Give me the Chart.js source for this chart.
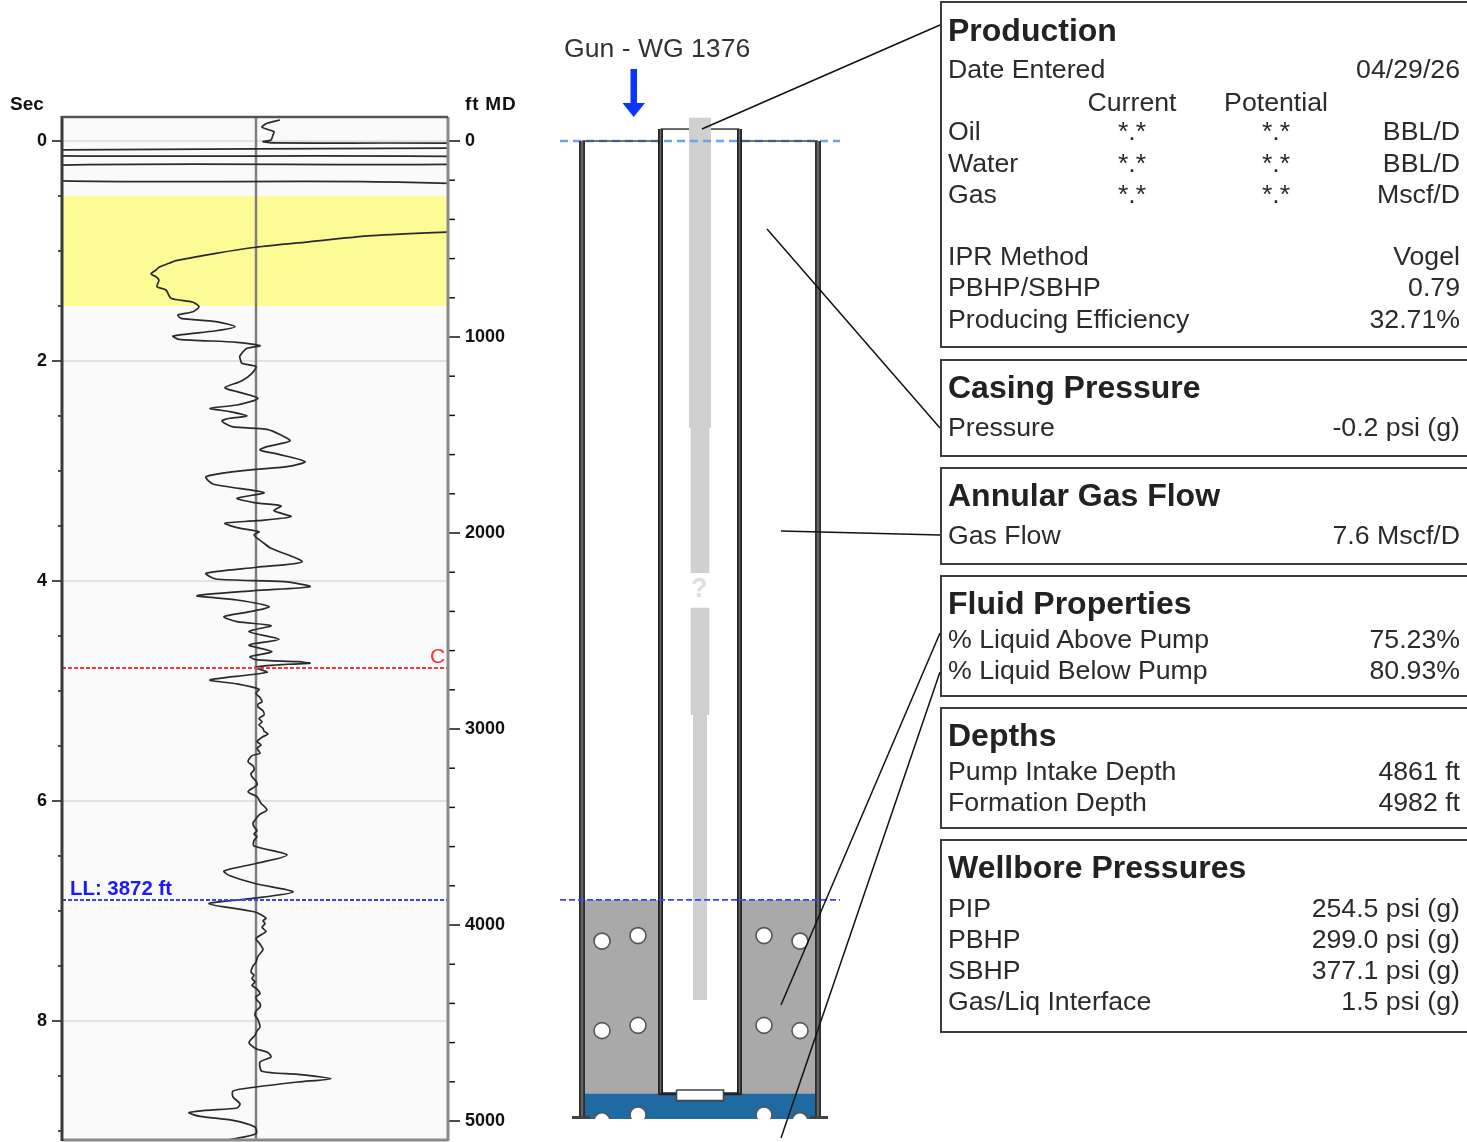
<!DOCTYPE html>
<html lang="en">
<head>
  <meta charset="UTF-8">
  <title>Well Analysis</title>
  <script src="https://cdn.jsdelivr.net/npm/chart.js"></script>
  <style>
    html, body {
      margin: 0;
      background: #fff;
      overflow: hidden;
    }

    body {
      position: relative;
      width: 1467px;
      height: 1142px;
      font-family: 'Liberation Sans', Arial, sans-serif;
      color: #2b2b2b;
    }

    canvas {
      position: absolute;
      top: 0;
    }

    #logChart { left: 0; filter: blur(0.4px); }
    #wellChart { left: 550px; filter: blur(0.3px); }

    .tag {
      position: absolute;
      white-space: nowrap;
      line-height: 1;
    }

    .axis-name { font-size: 19px; font-weight: bold; color: #111; }

    .panel {
      position: absolute;
      left: 940px;
      width: 540px;
      box-sizing: border-box;
      border: 2px solid #3c3c3c;
    }

    .panel h3, .row {
      position: absolute;
      margin: 0;
      line-height: 1;
      white-space: nowrap;
    }

    .panel h3 {
      left: 6px;
      font-size: 32px;
      font-weight: bold;
      color: #222;
    }

    .row { left: 6px; font-size: 26.7px; }
    .row.end { left: auto; right: 18px; }
    .row.mid { left: 0; width: 0; text-align: center; display: flex; justify-content: center; }
  </style>
</head>
<body>
  <canvas id="logChart" width="530" height="1142"></canvas>
  <canvas id="wellChart" width="395" height="1142"></canvas>

  <div class="tag axis-name" style="left:10px;top:94px">Sec</div>
  <div class="tag axis-name" style="left:465px;top:94px;letter-spacing:0.8px">ft MD</div>
  <div class="tag" style="left:70px;top:878px;font-size:20.4px;font-weight:bold;color:#1a1aff">LL: 3872 ft</div>
  <div class="tag" style="left:430px;top:645px;font-size:21px;color:#ff3030">C</div>
  <div class="tag" style="left:564px;top:35px;font-size:26.6px;color:#333">Gun - WG 1376</div>
  <div class="tag" style="left:691px;top:575px;font-size:27px;font-weight:bold;color:#dedede">?</div>

  <div class="panel" style="top:1px;height:347px">
    <h3 style="top:11px">Production</h3>
    <div class="row" style="top:53px">Date Entered</div><div class="row end" style="top:53px">04/29/26</div>
    <div class="row mid" style="top:86px;left:190px">Current</div><div class="row mid" style="top:86px;left:334px">Potential</div>
    <div class="row" style="top:115px">Oil</div><div class="row mid" style="top:115px;left:190px">*.*</div><div class="row mid" style="top:115px;left:334px">*.*</div><div class="row end" style="top:115px">BBL/D</div>
    <div class="row" style="top:147px">Water</div><div class="row mid" style="top:147px;left:190px">*.*</div><div class="row mid" style="top:147px;left:334px">*.*</div><div class="row end" style="top:147px">BBL/D</div>
    <div class="row" style="top:178px">Gas</div><div class="row mid" style="top:178px;left:190px">*.*</div><div class="row mid" style="top:178px;left:334px">*.*</div><div class="row end" style="top:178px">Mscf/D</div>
    <div class="row" style="top:240px">IPR Method</div><div class="row end" style="top:240px">Vogel</div>
    <div class="row" style="top:271px">PBHP/SBHP</div><div class="row end" style="top:271px">0.79</div>
    <div class="row" style="top:303px">Producing Efficiency</div><div class="row end" style="top:303px">32.71%</div>
  </div>

  <div class="panel" style="top:359px;height:98px">
    <h3 style="top:10px">Casing Pressure</h3>
    <div class="row" style="top:53px">Pressure</div><div class="row end" style="top:53px">-0.2 psi (g)</div>
  </div>

  <div class="panel" style="top:467px;height:98px">
    <h3 style="top:10px">Annular Gas Flow</h3>
    <div class="row" style="top:53px">Gas Flow</div><div class="row end" style="top:53px">7.6 Mscf/D</div>
  </div>

  <div class="panel" style="top:575px;height:122px">
    <h3 style="top:10px">Fluid Properties</h3>
    <div class="row" style="top:49px">% Liquid Above Pump</div><div class="row end" style="top:49px">75.23%</div>
    <div class="row" style="top:80px">% Liquid Below Pump</div><div class="row end" style="top:80px">80.93%</div>
  </div>

  <div class="panel" style="top:707px;height:122px">
    <h3 style="top:10px">Depths</h3>
    <div class="row" style="top:49px">Pump Intake Depth</div><div class="row end" style="top:49px">4861 ft</div>
    <div class="row" style="top:80px">Formation Depth</div><div class="row end" style="top:80px">4982 ft</div>
  </div>

  <div class="panel" style="top:839px;height:194px">
    <h3 style="top:10px">Wellbore Pressures</h3>
    <div class="row" style="top:54px">PIP</div><div class="row end" style="top:54px">254.5 psi (g)</div>
    <div class="row" style="top:85px">PBHP</div><div class="row end" style="top:85px">299.0 psi (g)</div>
    <div class="row" style="top:116px">SBHP</div><div class="row end" style="top:116px">377.1 psi (g)</div>
    <div class="row" style="top:147px">Gas/Liq Interface</div><div class="row end" style="top:147px">1.5 psi (g)</div>
  </div>

  <script>
    // acoustic trace, time in seconds down the hole, amplitude around zero
    const traceSec = [
      -0.191, -0.161, -0.125, -0.085, -0.055, -0.009, 0.006, 0.018, 0.024, 0.064, 0.082, 0.132, 0.144, 0.209, 0.225, 0.355, 0.400,
      0.744, 0.818, 0.861, 0.921, 0.966, 1.021, 1.088, 1.112, 1.148, 1.173, 1.209, 1.234, 1.264, 1.325, 1.355, 1.43, 1.466, 1.506,
      1.552, 1.582, 1.612, 1.643, 1.688, 1.725, 1.773, 1.803, 1.83, 1.861, 1.885, 1.952, 1.975, 2.021, 2.052, 2.112, 2.179,
      2.243, 2.279, 2.339, 2.4, 2.43, 2.461, 2.5, 2.521, 2.545, 2.597, 2.621, 2.673, 2.727, 2.779, 2.809, 2.845, 2.915, 2.961,
      2.997, 3.052, 3.118, 3.197, 3.248, 3.288, 3.318, 3.361, 3.415, 3.452, 3.475, 3.515, 3.552, 3.582, 3.657, 3.703, 3.825,
      3.875, 3.93, 3.982, 4.006, 4.052, 4.088, 4.134, 4.173, 4.234, 4.279, 4.325, 4.37, 4.406, 4.461, 4.53, 4.582, 4.643,
      4.688, 4.718, 4.734, 4.748, 4.757, 4.785, 4.83, 4.9, 4.936, 4.985, 5.021, 5.06, 5.097, 5.12, 5.143, 5.18, 5.218, 5.25,
      5.28, 5.309, 5.34, 5.365, 5.391, 5.42, 5.461, 5.49, 5.52, 5.567, 5.588, 5.643, 5.68, 5.718, 5.75, 5.779, 5.82, 5.855,
      5.915, 5.961, 6.02, 6.082, 6.12, 6.173, 6.2, 6.234, 6.27, 6.3, 6.325, 6.36, 6.409, 6.491, 6.566, 6.636, 6.68, 6.752,
      6.827, 6.888, 6.934, 7.009, 7.064, 7.09, 7.115, 7.15, 7.185, 7.252, 7.3, 7.352, 7.41, 7.464, 7.5, 7.555, 7.585, 7.615,
      7.645, 7.675, 7.71, 7.752, 7.78, 7.812, 7.84, 7.873, 7.91, 7.948, 7.99, 8.055, 8.09, 8.13, 8.197, 8.252, 8.282, 8.327,
      8.373, 8.457, 8.485, 8.525, 8.555, 8.6, 8.636, 8.691, 8.752, 8.791, 8.812, 8.834, 8.867, 8.903, 8.964, 9.025, 9.085, 9.155
    ];
    const traceAmp = [
      24, 11, 6, 18, 17, 15, 7, 18, 220, 220, -220, -220, 220, 220, -220, -220, 220,
      400, 220, 116, 48, 0, -40, -80, -87, -97, -100, -105, -100, -97, -99, -90, -85, -63, -57,
      -63, -78, -75, -40, -21, -40, -83, -77, -19, 4, -9, -16, -16, -14, 0, -4, -14,
      -31, -19, 2, -19, -46, -26, -9, -26, -34, -24, 11, 25, 34, 11, 4, 21, 49, 31,
      -13, -50, -43, 8, -19, -2, 25, 18, 35, 1, -31, -19, 3, -2, 8, 15, 46,
      1, -50, -40, 28, 54, -2, -59, -19, 13, -6, -32, -19, 15, -7, 23, -7, 16,
      -6, 1, 42, 54, 31, -1, 11, -46, -19, 3, 0, 4, 6, 2, 2, 7, 8, 3,
      6, 3, 7, 8, 12, 6, 1, 5, 1, 4, -4, -8, -3, -2, -5, -4, 0, 1,
      -8, 1, 5, 11, 4, -1, -3, -2, 1, -2, 1, -2, -2, 31, 1, -32, -26, 0,
      37, -6, -47, -1, 10, 7, 9, 6, 10, 0, 4, 7, 2, 0, -3, -5, -2, -4,
      -1, -4, 1, 4, 0, 1, 4, 4, 0, -1, 2, 4, 1, -1, -7, 0, 11, 15,
      4, 6, 42, 75, 42, 0, -23, -23, -16, -19, -50, -67, -56, -23, -1, 0, -29, -53
    ];

    const secTicks = [0, 2, 4, 6, 8];
    const secMinorTicks = [0.5, 1, 1.5, 2.5, 3, 3.5, 4.5, 5, 5.5, 6.5, 7, 7.5, 8.5, 9];
    const ftTicks = [0, 1000, 2000, 3000, 4000, 5000];
    const ftMinorTicks = [200, 400, 600, 800, 1200, 1400, 1600, 1800, 2200, 2400, 2600, 2800, 3200, 3400, 3600, 3800, 4200, 4400, 4600, 4800];
    const fluidBandSec = [0.5, 1.5];
    const collarFt = 2689;
    const liquidLevelFt = 3872;
    const pumpFt = 4861;
    const formationFt = 4982;

    // wellbore schematic, x measured from the well centre
    const casingX = 118;
    const tubingX = 39.5;
    const rodSections = [
      { half: 11, from: -119, to: 1464 },
      { half: 9.3, from: 1464, to: 2204 },
      { half: 9.3, from: 2381, to: 2929 },
      { half: 7, from: 2929, to: 4383 }
    ];
    const bubbleX = [-98, -62, 64, 100, -98, -62, 64, 100, -98, -62, 64, 100];
    const bubbleFt = [4082, 4054, 4054, 4082, 4539, 4512, 4512, 4539, 4999, 4969, 4969, 4999];
    const calloutFrom = [[2, -61], [67, 449], [81, 1990], [81, 4408], [81, 5087]];
    const calloutTo = [[240, -592], [240, 1464], [240, 2010], [240, 2510], [240, 2709]];

    const rect = (x0, x1, y0, y1) => [
      { x: x0, y: y0 }, { x: x1, y: y0 }, { x: x1, y: y1 }, { x: x0, y: y1 }, { x: x0, y: y0 }
    ];
    const polygon = (points, color) => ({
      data: points, showLine: true, fill: 'shape', backgroundColor: color,
      borderColor: color, borderWidth: 0, pointRadius: 0
    });
    const stroke = (points, color, width, dash) => ({
      data: points, showLine: true, fill: false, borderColor: color,
      borderWidth: width, borderDash: dash || [], pointRadius: 0
    });
    // later entries are painted on top
    const stacked = list => list.map((d, i) => Object.assign(d, { order: -i }));
    const tickList = (majors, minors) => majors.concat(minors).sort((a, b) => a - b).map(value => ({ value }));

    const left = -194, right = 192;
    const secMin = -0.218, secMax = 9.082;
    const ftMin = -122.4, ftMax = 5096.9;

    // stop the edge tick labels from eating into the plot height
    const noEdgePadding = s => {
      s.paddingTop = 0;
      s.paddingBottom = 0;
    };

    const logFrame = {
      id: 'logFrame',
      beforeDraw(chart) {
        const a = chart.chartArea, c = chart.ctx;
        c.fillStyle = '#fafafa';
        c.fillRect(a.left, a.top, a.width, a.height);
      },
      afterDraw(chart) {
        const a = chart.chartArea, c = chart.ctx;
        const line = (color, width, x0, y0, x1, y1) => {
          c.strokeStyle = color;
          c.lineWidth = width;
          c.beginPath();
          c.moveTo(x0, y0);
          c.lineTo(x1, y1);
          c.stroke();
        };
        chart.scales.y.ticks.forEach(t => {
          const p = chart.scales.y.getPixelForValue(t.value);
          line('#111', 1.5, a.left - (secTicks.includes(t.value) ? 10 : 4), p, a.left, p);
        });
        chart.scales.y2.ticks.forEach(t => {
          const p = chart.scales.y2.getPixelForValue(t.value);
          line('#111', 1.5, a.right, p, a.right + (ftTicks.includes(t.value) ? 12 : 7), p);
        });
        line('#8a8a8a', 3, a.left, a.bottom, a.right, a.bottom);
        line('#8a8a8a', 3, a.right, a.top, a.right, a.bottom + 1);
        line('#3a3a3a', 3, a.left, a.top - 1, a.left, a.bottom + 1);
        line('#555', 2.5, a.left, a.top, a.right, a.top);
      }
    };

    new Chart(document.getElementById('logChart'), {
      type: 'scatter',
      data: {
        datasets: stacked([
          polygon(rect(left, right, fluidBandSec[0], fluidBandSec[1]), '#fcfb96'),
          stroke([{ x: 0, y: secMin }, { x: 0, y: secMax }], '#7f7f7f', 2.5),
          Object.assign(stroke(traceSec.map((s, i) => ({ x: traceAmp[i], y: s })), '#2a2a2a', 1.7), { tension: 0.25 }),
          Object.assign(stroke([{ x: left, y: collarFt }, { x: right, y: collarFt }], '#ff3b3b', 2, [4, 2]), { yAxisID: 'y2' }),
          Object.assign(stroke([{ x: left, y: liquidLevelFt }, { x: right, y: liquidLevelFt }], '#3f3fff', 2, [4, 2]), { yAxisID: 'y2' })
        ])
      },
      plugins: [logFrame],
      options: {
        responsive: false,
        animation: false,
        devicePixelRatio: 1,
        layout: { autoPadding: false, padding: { top: 117, bottom: 2 } },
        plugins: { legend: { display: false }, tooltip: { enabled: false } },
        scales: {
          x: { type: 'linear', display: false, min: left, max: right },
          y: {
            reverse: true, min: secMin, max: secMax,
            afterBuildTicks: s => { s.ticks = tickList(secTicks, secMinorTicks); },
            afterFit: s => { s.width = 62; noEdgePadding(s); },
            border: { display: false },
            grid: {
              drawTicks: false, lineWidth: 2,
              color: c => secTicks.includes(c.tick.value) ? '#e2e2e2' : 'transparent'
            },
            ticks: {
              autoSkip: false, padding: 15, maxRotation: 0,
              color: '#111', font: { family: 'Liberation Sans', size: 18, weight: 'bold' },
              callback: v => secTicks.includes(v) ? String(v) : ''
            }
          },
          y2: {
            axis: 'y', position: 'right', reverse: true, min: ftMin, max: ftMax,
            afterBuildTicks: s => { s.ticks = tickList(ftTicks, ftMinorTicks); },
            afterFit: s => { s.width = 82; noEdgePadding(s); },
            border: { display: false },
            grid: { drawTicks: false, drawOnChartArea: false },
            ticks: {
              autoSkip: false, padding: 17, maxRotation: 0,
              color: '#111', font: { family: 'Liberation Sans', size: 18, weight: 'bold' },
              callback: v => ftTicks.includes(v) ? String(v) : ''
            }
          }
        }
      }
    });

    const wellDepthTop = -719.4, wellDepthBottom = 5107.1;
    const wallDark = '#2e2e2e', wallCore = '#666';
    const wellLayers = [
      polygon(rect(-casingX, -tubingX, liquidLevelFt, pumpFt + 10), '#a9a9a9'),
      polygon(rect(tubingX, casingX, liquidLevelFt, pumpFt + 10), '#a9a9a9'),
      polygon(rect(-casingX, casingX, pumpFt, formationFt + 8), '#1f6aa0'),
      {
        data: bubbleX.map((x, i) => ({ x, y: bubbleFt[i] })), showLine: false, pointRadius: 8,
        pointBackgroundColor: '#fff', pointBorderColor: '#555', pointBorderWidth: 1.6
      },
      polygon(rect(-140, 140, formationFt + 8, wellDepthBottom), '#fff')
    ];
    rodSections.forEach(r => wellLayers.push(polygon(rect(-r.half, r.half, r.from, r.to), '#d0d0d0')));
    wellLayers.push(
      stroke([{ x: -140, y: 0 }, { x: 140, y: 0 }], '#6aa3f2', 2.5, [8, 5]),
      stroke([{ x: -casingX, y: 0 }, { x: -tubingX, y: 0 }], '#444', 1.6),
      stroke([{ x: tubingX, y: 0 }, { x: casingX, y: 0 }], '#444', 1.6),
      stroke([{ x: -tubingX, y: -61 }, { x: -11, y: -61 }], '#444', 1.6),
      stroke([{ x: 11, y: -61 }, { x: tubingX, y: -61 }], '#444', 1.6),
      stroke([{ x: -casingX, y: 0 }, { x: -casingX, y: formationFt }], wallDark, 6),
      stroke([{ x: -casingX, y: 0 }, { x: -casingX, y: formationFt }], wallCore, 2.4),
      stroke([{ x: casingX, y: 0 }, { x: casingX, y: formationFt }], wallDark, 6),
      stroke([{ x: casingX, y: 0 }, { x: casingX, y: formationFt }], wallCore, 2.4),
      stroke([{ x: -tubingX, y: -61 }, { x: -tubingX, y: pumpFt + 6 }], '#222', 5),
      stroke([{ x: -tubingX, y: -61 }, { x: -tubingX, y: pumpFt }], wallCore, 1.6),
      stroke([{ x: tubingX, y: -61 }, { x: tubingX, y: pumpFt + 6 }], '#222', 5),
      stroke([{ x: tubingX, y: -61 }, { x: tubingX, y: pumpFt }], wallCore, 1.6),
      stroke([{ x: -tubingX, y: pumpFt }, { x: tubingX, y: pumpFt }], '#222', 3),
      stroke([{ x: -128, y: formationFt }, { x: -110, y: formationFt }], '#444', 3),
      stroke([{ x: 110, y: formationFt }, { x: 128, y: formationFt }], '#444', 3),
      stroke([{ x: -140, y: liquidLevelFt }, { x: 140, y: liquidLevelFt }], '#3f3fff', 1.8, [6, 3]),
      Object.assign(polygon(rect(-23.5, 23.5, pumpFt - 19, pumpFt + 35), '#fff'), { borderWidth: 1.6, borderColor: '#444' }),
      polygon([
        { x: -69.5, y: -367 }, { x: -63, y: -367 }, { x: -63, y: -194 }, { x: -55, y: -194 },
        { x: -66.3, y: -122 }, { x: -77.5, y: -194 }, { x: -69.5, y: -194 }, { x: -69.5, y: -367 }
      ], '#0a35ff')
    );
    calloutFrom.forEach((p, i) => {
      wellLayers.push(stroke([{ x: p[0], y: p[1] }, { x: calloutTo[i][0], y: calloutTo[i][1] }], '#111', 1.5));
    });

    new Chart(document.getElementById('wellChart'), {
      type: 'scatter',
      data: { datasets: stacked(wellLayers) },
      options: {
        responsive: false,
        animation: false,
        devicePixelRatio: 1,
        layout: { autoPadding: false },
        plugins: { legend: { display: false }, tooltip: { enabled: false } },
        scales: {
          x: { type: 'linear', display: false, min: -150, max: 245 },
          y: { type: 'linear', display: false, reverse: true, min: wellDepthTop, max: wellDepthBottom }
        }
      }
    });
  </script>
</body>
</html>
